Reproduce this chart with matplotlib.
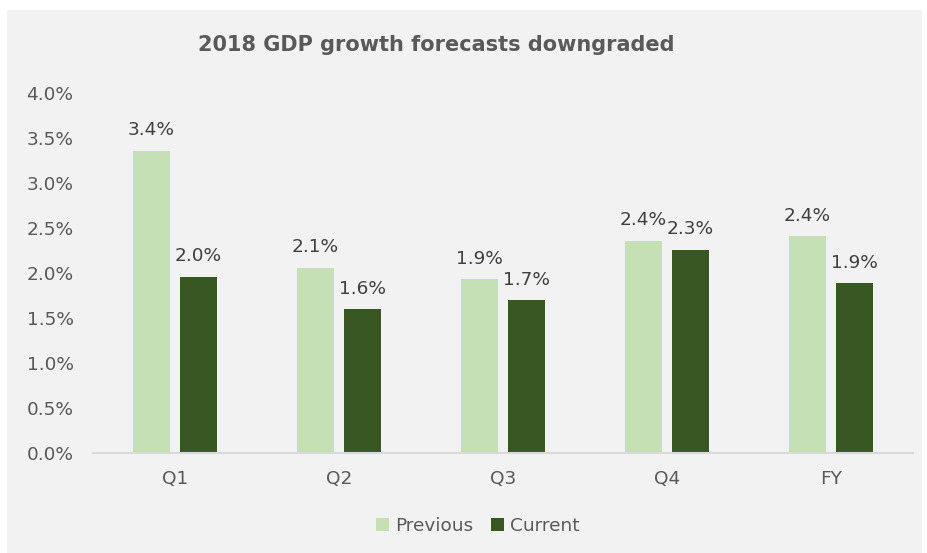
import matplotlib
matplotlib.use("Agg")
import matplotlib.pyplot as plt
import numpy as np
from matplotlib.patches import Rectangle
from matplotlib.ticker import FuncFormatter, MultipleLocator

categories = ["Q1", "Q2", "Q3", "Q4", "FY"]
previous = [3.36, 2.06, 1.93, 2.36, 2.41]
current = [1.96, 1.60, 1.70, 2.26, 1.89]
series_names = ["Previous", "Current"]
title = "2018 GDP growth forecasts downgraded"

color_prev = "#c5e0b4"
color_curr = "#385723"
bg = "#f2f2f2"
text_gray = "#595959"
label_gray = "#404040"

plt.rcParams["font.family"] = ["DejaVu Sans"]

W, H = 928, 553
fig = plt.figure(figsize=(W / 100, H / 100), dpi=100, facecolor="white")
# chart panel behind everything
fig.patches.append(Rectangle((7 / W, 0), (922 - 7) / W, (H - 10) / H,
                             transform=fig.transFigure, facecolor=bg,
                             edgecolor="none", zorder=-10))

ax = fig.add_axes([93 / W, 1 - 453 / H, 820 / W, 360 / H])
ax.set_zorder(2)
ax.patch.set_alpha(0)

x = np.arange(len(categories))
width = 0.225
offset = 0.143
b1 = ax.bar(x - offset, previous, width, color=color_prev, label=series_names[0], zorder=2)
b2 = ax.bar(x + offset, current, width, color=color_curr, label=series_names[1], zorder=2)

for bars, vals in ((b1, previous), (b2, current)):
    for rect, v in zip(bars, vals):
        ax.annotate(f"{v:.1f}%", (rect.get_x() + rect.get_width() / 2, v),
                    xytext=(0, 8), textcoords="offset points",
                    ha="center", va="bottom", fontsize=13.3, color=label_gray)

ax.set_xlim(-0.5, len(categories) - 0.5)
ax.set_ylim(0, 4.0)
ax.yaxis.set_major_locator(MultipleLocator(0.5))
ax.yaxis.set_major_formatter(FuncFormatter(lambda v, p: f"{v:.1f}%"))
ax.set_xticks(x)
ax.set_xticklabels(categories)
ax.tick_params(axis="y", length=0, pad=14, labelsize=13.3, labelcolor=text_gray)
ax.tick_params(axis="x", length=0, pad=12, labelsize=13.3, labelcolor=text_gray)

for s in ("top", "right", "left"):
    ax.spines[s].set_visible(False)
ax.spines["bottom"].set_color("#d9d9d9")
ax.spines["bottom"].set_linewidth(1.5)

fig.text(436 / W, 1 - 45 / H, title, ha="center", va="center",
         fontsize=15, fontweight="bold", color=text_gray)

leg = fig.legend(handles=[b1, b2], labels=series_names, loc="center",
                 bbox_to_anchor=(478 / W, 1 - 526 / H), ncol=2, frameon=False,
                 fontsize=13.3, handlelength=0.7, handleheight=0.7,
                 handletextpad=0.3, columnspacing=1.0)
for t in leg.get_texts():
    t.set_color(text_gray)

fig.savefig("out.png", dpi=100, facecolor="white")
